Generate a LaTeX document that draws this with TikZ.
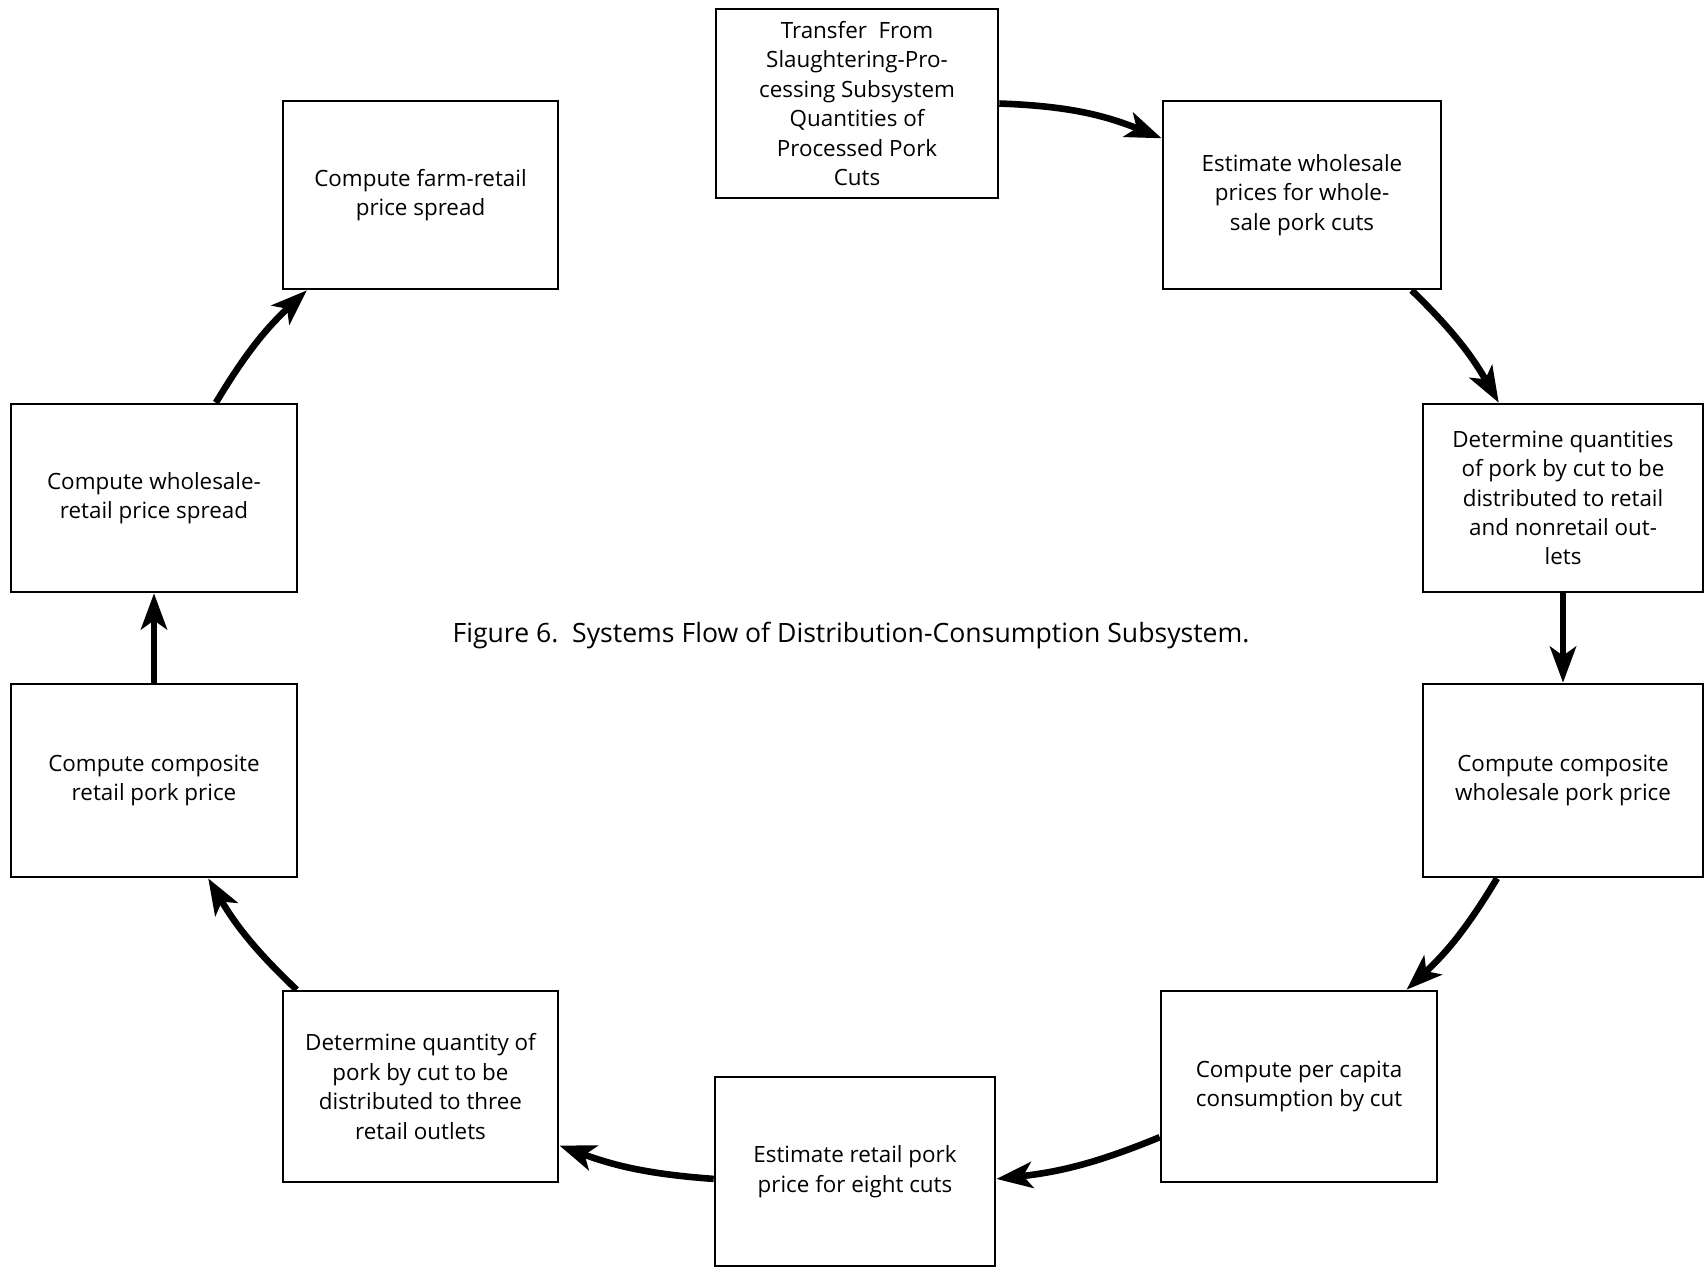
\documentclass[tikz,border=0pt]{standalone}
\usepackage{fontspec}
\setmainfont{Open Sans}
\usetikzlibrary{arrows.meta}
\begin{document}
\begin{tikzpicture}[x=0.5pt,y=-0.5pt,
  box/.style={draw,line width=1.3pt,align=center,inner sep=0pt,
    font=\fontsize{11.2}{14.7}\selectfont},
  flow/.style={line width=3.3pt,-{Stealth[length=18pt,width=13pt,inset=4.5pt]}}]
\useasboundingbox (0,0) rectangle (1706,1266);
\node[box,minimum width=141pt,minimum height=94.5pt] (trans) at (857,103.5) {Transfer\ \ From\\Slaughtering-Pro-\\cessing Subsystem\\Quantities of\\Processed Pork\\Cuts};
\node[box,minimum width=139pt,minimum height=94pt] (estwh) at (1302,195) {Estimate wholesale\\prices for whole-\\sale pork cuts};
\node[box,minimum width=140pt,minimum height=94pt] (detq) at (1563,498) {Determine quantities\\of pork by cut to be\\distributed to retail\\and nonretail out-\\lets};
\node[box,minimum width=140pt,minimum height=96.5pt] (compwh) at (1563,780.5) {Compute composite\\wholesale pork price};
\node[box,minimum width=138pt,minimum height=95.5pt] (percap) at (1299,1086.5) {Compute per capita\\consumption by cut};
\node[box,minimum width=140pt,minimum height=94.5pt] (estret) at (855,1171.5) {Estimate retail pork\\price for eight cuts};
\node[box,minimum width=137.5pt,minimum height=95.5pt] (detqr) at (420.5,1086.5) {Determine quantity of\\pork by cut to be\\distributed to three\\retail outlets};
\node[box,minimum width=143pt,minimum height=96.5pt] (compret) at (154,780.5) {Compute composite\\retail pork price};
\node[box,minimum width=143pt,minimum height=94pt] (whret) at (154,498) {Compute wholesale-\\retail price spread};
\node[box,minimum width=137.5pt,minimum height=94pt] (farm) at (420.5,195) {Compute farm-retail\\price spread};
\node[font=\fontsize{13.3}{16}\selectfont] (cap) at (851,635) {Figure 6.\ \ Systems Flow of Distribution-Consumption Subsystem.};
\draw[flow] (trans.east) to[bend left=10] (estwh.158);
\draw[flow] (estwh.-41) to[bend left=8] (detq.124);
\draw[flow] (detq.south) -- (compwh.north);
\draw[flow] (compwh.-124) to[bend left=8] (percap.42);
\draw[flow] (percap.200) to[bend left=8] (estret.-3);
\draw[flow] (estret.183) to[bend left=8] (detqr.-23);
\draw[flow] (detqr.142) to[bend left=8] (compret.-61);
\draw[flow] (compret.north) -- (whret.south);
\draw[flow] (whret.57) to[bend left=8] (farm.220);
\end{tikzpicture}
\end{document}
